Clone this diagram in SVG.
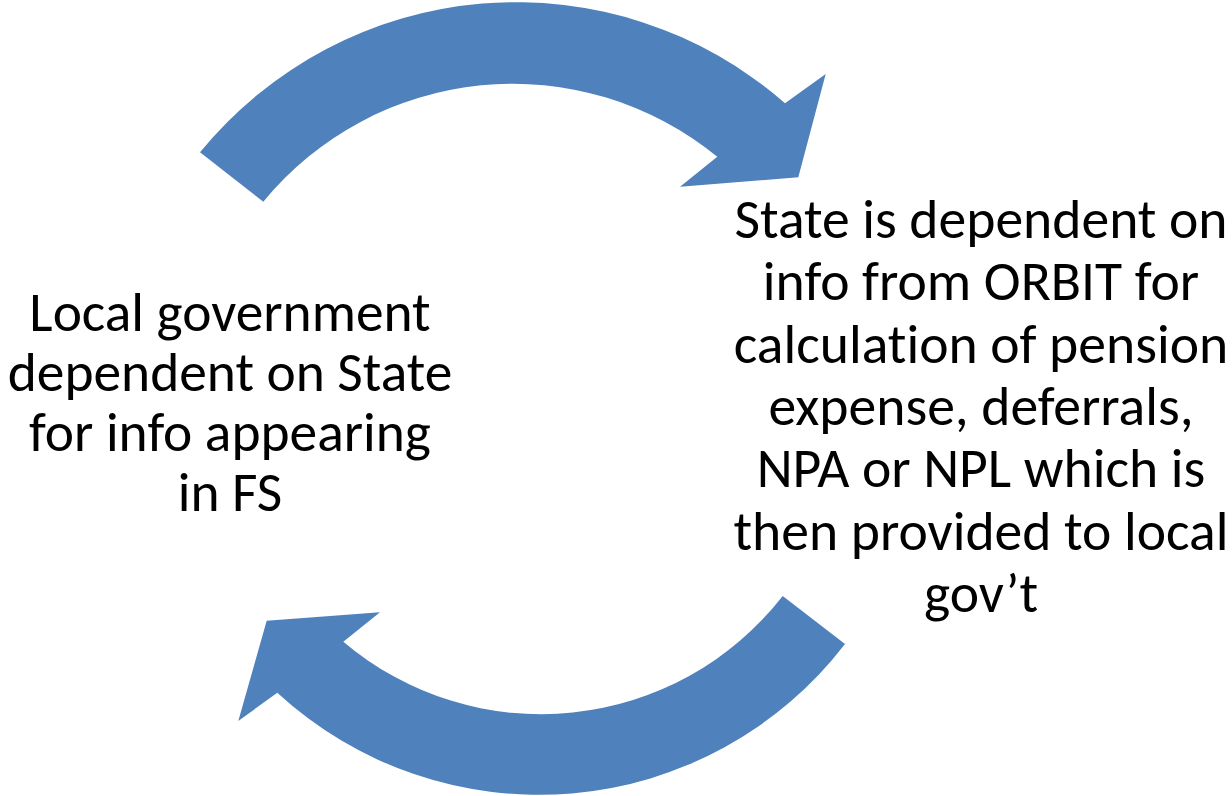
<svg xmlns="http://www.w3.org/2000/svg" width="1232" height="796" viewBox="0 0 1232 796">
  <style>
    .arrow { fill: #4F81BD; stroke: none; }
    .label { font-family: Carlito, Calibri, "Open Sans", sans-serif; fill: #000000; text-anchor: middle; font-variant-ligatures: none; }
    .left { font-size: 55.4px; }
    .right { font-size: 55.6px; }
  </style>
  <rect width="1232" height="796" fill="#ffffff"/>

  <!-- curved block arrows forming the dependency cycle -->
  <g id="connectors">
    <!-- upper arrow: local government -> state -->
    <path id="arrow-top" class="arrow"
          d="M 200,152.3 A 408 408 0 0 1 785,103.3 L 825.7,74 L 798.3,177.3 L 680,186.7 L 717.3,156.7 A 323 323 0 0 0 263.3,201.7 Z"/>
    <!-- lower arrow: state -> local government -->
    <path id="arrow-bottom" class="arrow"
          d="M 845,644 A 386 386 0 0 1 277.3,692.7 L 238.3,721 L 266.7,620.7 L 380,612.3 L 343.3,641.7 A 306 306 0 0 0 782.7,596 Z"/>
  </g>

  <!-- line breaks are kept as separate tspans with no whitespace between them -->
  <g id="node-local-government">
    <text class="label left"><tspan x="230" y="331">Local government</tspan><tspan x="230" y="391">dependent on State</tspan><tspan x="230" y="451">for info appearing</tspan><tspan x="230" y="511">in FS</tspan></text>
  </g>

  <g id="node-state">
    <text class="label right"><tspan x="981" y="238">State is dependent on</tspan><tspan x="981" y="300.3">info from ORBIT for</tspan><tspan x="981" y="362.6">calculation of pension</tspan><tspan x="981" y="425">expense, deferrals,</tspan><tspan x="981" y="487.3">NPA or NPL which is</tspan><tspan x="981" y="549.6">then provided to local</tspan><tspan x="981" y="612">gov’t</tspan></text>
  </g>
</svg>
